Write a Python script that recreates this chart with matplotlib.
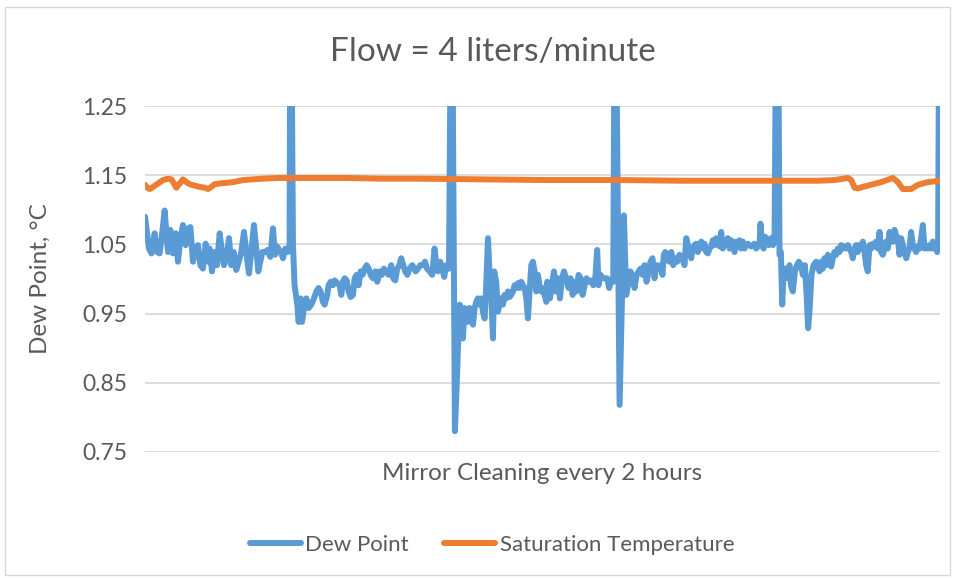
import matplotlib.pyplot as plt
from matplotlib.patches import Rectangle

# minutes since start of the run (mirror cleaned every 120 min)
dew_time = [
    0.0, 2.9, 4.7, 7.1, 8.9, 10.8, 12.8, 14.5, 15.8, 17.0, 18.7, 20.7, 22.7, 24.4, 26.2,
    28.1, 30.1, 31.8, 33.6, 35.5, 37.5, 39.2, 41.0, 42.9, 44.9, 46.6, 47.9, 49.6, 51.6,
    53.3, 55.3, 57.0, 58.5, 60.2, 62.2, 63.9, 65.7, 67.6, 69.4, 71.3, 73.3, 75.0, 77.0,
    78.7, 80.7, 82.4, 83.9, 85.4, 86.9, 88.9, 90.8, 92.8, 94.8, 96.3, 97.8,
    100.5, 102.2, 103.9, 105.9, 107.1, 107.6, 108.4, 109.6, 110.8, 112.8, 113.8, 115.3,
    116.3, 117.8, 119.5, 121.2, 123.2, 125.2, 126.9, 128.6, 130.1, 131.8, 133.1, 135.0,
    136.0, 137.5, 139.2, 140.5, 142.5, 144.2, 145.4, 146.6, 147.9, 149.4, 150.8, 152.3,
    154.1, 155.3, 156.8, 158.3, 159.7, 161.2, 162.7, 164.2, 165.7, 167.1, 168.9, 170.6,
    172.1, 173.8, 175.5, 177.0, 178.7, 180.5, 182.4, 183.9, 185.4, 186.9, 188.4, 189.8,
    191.3, 192.8, 194.3, 196.0, 198.0,
    200.5, 202.2, 203.9, 205.9, 207.4, 208.9, 210.8, 212.8, 214.5, 215.8, 217.0, 218.7,
    220.2, 221.7, 223.2, 225.2, 226.6, 227.6, 229.6, 231.1, 232.1, 233.1, 234.3, 235.5,
    236.8, 238.0, 239.2, 240.5, 241.7, 243.0, 244.2, 245.4, 246.6, 247.9, 249.1, 250.3,
    251.6, 252.8, 254.1, 255.3, 256.5, 257.8, 258.7, 260.2, 261.5, 262.7, 263.9, 265.2,
    266.4, 267.6, 268.9, 270.1, 271.3, 272.6, 273.8, 275.0, 276.3, 277.5, 278.7, 280.0,
    281.2, 282.5, 283.7, 284.9, 286.2, 287.4, 288.6, 289.9, 291.1, 292.3, 293.6, 294.8,
    296.0, 297.3, 298.0,
    300.0, 301.5, 303.0, 304.4, 305.9, 307.4, 308.9, 310.4, 312.1, 313.8, 315.3, 316.8,
    318.3, 319.7, 321.2, 322.7, 324.2, 325.7, 327.1, 328.6, 330.6, 332.1, 333.6, 335.0,
    336.0, 337.5, 339.2, 341.0, 342.4, 343.9, 345.4, 346.9, 347.9, 348.9, 351.6, 354.8,
    356.5, 358.3, 359.7, 361.5, 362.7, 364.2, 365.7, 367.1, 368.6, 370.1, 371.6, 373.1,
    374.5, 376.0, 377.5, 379.0, 380.5, 382.0, 383.4, 384.4, 385.4, 386.9, 388.4, 389.9,
    391.3, 392.8, 394.3, 396.0, 398.0,
    399.7, 401.0, 402.2, 403.4, 404.7, 405.9, 407.1, 408.4, 409.6, 410.8, 412.1, 413.3,
    414.5, 415.8, 417.0, 418.3, 419.5, 420.7, 422.0, 423.2, 424.4, 425.7, 426.9, 428.1,
    429.4, 430.6, 431.8, 433.1, 434.3, 435.5, 436.8, 438.0, 439.2, 440.5, 441.7, 443.0,
    444.2, 445.4, 446.6, 447.9, 449.1, 450.3, 451.6, 452.8, 454.1, 455.3, 456.0, 457.0,
    458.3, 459.5, 460.7, 462.2, 463.7, 465.2, 466.4, 467.6, 469.1, 470.1, 471.1, 472.1,
    473.1, 474.6, 476.1, 477.5, 478.5, 480.0, 481.5, 483.0, 484.4, 485.9, 487.4, 488.9,
    490.3, 491.3, 492.3, 493.8, 495.3, 497.3,
    499.7, 501.0, 502.2, 503.4, 504.7, 505.9, 507.1, 508.4, 509.6, 510.8, 512.1, 513.3,
    514.5, 515.8, 517.0, 518.3, 519.5, 520.7, 522.0, 523.2, 524.4, 525.7, 526.9, 528.1,
    529.4, 530.6, 531.8, 533.1, 534.3, 535.5, 536.8, 538.0, 539.2, 540.5, 541.7, 543.0,
    544.2, 545.4, 546.6, 547.9, 549.1, 550.3, 551.6, 552.8, 554.1, 555.3, 556.5, 557.8,
    559.0, 560.2, 561.5, 562.7, 564.0, 565.2, 566.4, 567.6, 568.9, 570.1, 571.3, 572.6,
    573.8, 575.0, 576.3, 577.5, 578.7, 580.0, 581.2, 582.4, 583.7, 584.9, 586.1, 586.9,
    587.6, 588.4,
]
dew_point = [
    1.090, 1.044, 1.037, 1.066, 1.039, 1.037, 1.068, 1.099, 1.068, 1.039, 1.071, 1.037, 1.066, 1.025, 1.059,
    1.078, 1.049, 1.073, 1.075, 1.025, 1.044, 1.049, 1.020, 1.015, 1.051, 1.025, 1.044, 1.011, 1.039,
    1.020, 1.066, 1.039, 1.020, 1.030, 1.059, 1.020, 1.039, 1.013, 1.025, 1.039, 1.068, 1.039, 1.008,
    1.039, 1.078, 1.044, 1.011, 1.025, 1.039, 1.039, 1.042, 1.032, 1.073, 1.035, 1.047,
    1.039, 1.030, 1.044, 1.039, 1.049, 1.400, 1.400, 1.049, 0.991, 0.963, 0.938, 0.972,
    0.938, 0.958, 0.972, 0.958, 0.963, 0.972, 0.982, 0.987, 0.982, 0.967, 0.963, 0.977,
    0.991, 0.996, 0.991, 0.998, 0.994, 0.991, 0.977, 0.996, 1.001, 0.998, 0.982, 0.974,
    0.977, 1.001, 1.006, 0.991, 1.011, 1.006, 1.015, 1.020, 1.015, 1.006, 1.001, 1.011,
    0.996, 1.011, 1.006, 1.015, 1.011, 1.006, 1.020, 1.001, 0.998, 1.015, 1.020, 1.030,
    1.020, 1.011, 1.006, 1.015, 1.020,
    1.011, 1.015, 1.020, 1.020, 1.025, 1.015, 1.011, 1.006, 1.044, 1.020, 1.011, 1.025,
    1.015, 1.003, 1.020, 1.015, 1.400, 1.400, 0.780, 0.857, 0.914, 0.963, 0.953, 0.914,
    0.958, 0.953, 0.938, 0.958, 0.948, 0.934, 0.958, 0.967, 0.972, 0.963, 0.972, 0.953,
    0.943, 0.991, 1.059, 1.006, 0.977, 0.914, 1.011, 0.996, 0.953, 0.963, 0.972, 0.963,
    0.977, 0.972, 0.982, 0.974, 0.977, 0.982, 0.991, 0.987, 0.994, 0.987, 0.996, 0.991,
    0.987, 0.972, 0.943, 0.982, 1.020, 1.025, 1.011, 0.982, 1.006, 0.991, 0.982, 0.987,
    0.977, 0.967, 0.996,
    0.972, 0.991, 1.011, 0.982, 1.001, 0.972, 1.001, 1.011, 1.001, 0.987, 1.001, 0.977,
    0.996, 0.982, 1.006, 1.001, 0.977, 0.991, 1.001, 0.996, 0.998, 0.991, 1.001, 1.042,
    0.991, 1.006, 1.001, 1.001, 1.001, 0.987, 0.998, 0.996, 1.400, 1.400, 0.818, 1.092,
    0.977, 0.996, 1.011, 1.001, 0.987, 1.006, 1.011, 1.015, 1.006, 1.020, 0.996, 1.011,
    1.025, 1.030, 1.001, 1.020, 1.015, 1.020, 1.006, 1.035, 1.039, 1.035, 1.025, 1.039,
    1.020, 1.030, 1.025, 1.035, 1.030,
    1.020, 1.059, 1.049, 1.039, 1.030, 1.044, 1.049, 1.051, 1.039, 1.049, 1.054, 1.044,
    1.051, 1.039, 1.037, 1.044, 1.047, 1.056, 1.049, 1.059, 1.051, 1.047, 1.068, 1.044,
    1.054, 1.049, 1.059, 1.044, 1.056, 1.051, 1.039, 1.054, 1.047, 1.056, 1.044, 1.054,
    1.044, 1.049, 1.051, 1.049, 1.047, 1.049, 1.051, 1.044, 1.047, 1.049, 1.080, 1.054,
    1.044, 1.061, 1.054, 1.049, 1.059, 1.049, 1.054, 1.400, 1.400, 1.035, 1.039, 0.963,
    1.011, 1.015, 1.001, 1.020, 0.991, 0.982, 1.011, 1.020, 1.025, 1.020, 1.006, 1.020,
    0.972, 0.929, 0.953, 1.006, 1.020, 1.025,
    1.011, 1.025, 1.015, 1.030, 1.020, 1.035, 1.025, 1.018, 1.030, 1.039, 1.035, 1.044,
    1.039, 1.049, 1.044, 1.047, 1.044, 1.049, 1.044, 1.039, 1.030, 1.044, 1.049, 1.039,
    1.049, 1.044, 1.054, 1.039, 1.020, 1.011, 1.049, 1.044, 1.051, 1.047, 1.054, 1.044,
    1.068, 1.039, 1.035, 1.044, 1.054, 1.044, 1.068, 1.059, 1.054, 1.071, 1.063, 1.059,
    1.035, 1.059, 1.049, 1.039, 1.030, 1.039, 1.044, 1.068, 1.049, 1.044, 1.039, 1.047,
    1.044, 1.059, 1.078, 1.044, 1.047, 1.044, 1.049, 1.044, 1.054, 1.044, 1.044, 1.039,
    1.049, 1.400,
]

sat_time = [
    0.0, 1.0, 3.4, 5.9, 9.6, 13.3, 17.0, 19.5, 22.0, 23.2, 25.7, 28.1, 30.6, 33.1, 36.8,
    40.5, 44.2, 46.6, 49.1, 51.6, 55.3, 60.2, 65.2, 72.6, 80.0, 87.4, 98.5, 125.0,
    150.0, 175.0, 200.0, 250.0, 300.0, 350.0, 400.0, 450.0, 498.5, 510.8, 520.7, 523.2,
    525.7, 528.1, 535.5, 545.4, 554.1, 557.8, 561.5, 567.6, 572.6, 580.0, 589.0,
]
sat_temp = [
    1.136, 1.133, 1.130, 1.133, 1.138, 1.143, 1.145, 1.144, 1.136, 1.132, 1.138, 1.144, 1.140, 1.137, 1.135,
    1.133, 1.132, 1.130, 1.133, 1.137, 1.138, 1.139, 1.140, 1.143, 1.144, 1.145, 1.146, 1.146,
    1.146, 1.145, 1.145, 1.144, 1.143, 1.143, 1.142, 1.142, 1.142, 1.143, 1.146, 1.143,
    1.132, 1.131, 1.135, 1.140, 1.146, 1.140, 1.130, 1.130, 1.136, 1.140, 1.142,
]

y_ticks = [0.75, 0.85, 0.95, 1.05, 1.15, 1.25]

blue = "#5B9BD5"
orange = "#ED7D31"
text_col = "#595959"

plt.rcParams["font.family"] = ["Lato", "DejaVu Sans"]

fig = plt.figure(figsize=(9.58, 5.78), dpi=100)
ax = fig.add_axes([0.1514, 0.218, 0.8298, 0.5986])

ax.plot(dew_time, dew_point, color=blue, lw=4.3, label="Dew Point",
        solid_joinstyle="round", solid_capstyle="round")
ax.plot(sat_time, sat_temp, color=orange, lw=4.3, label="Saturation Temperature",
        solid_joinstyle="round", solid_capstyle="round")

ax.set_xlim(0, 589)
ax.set_ylim(0.75, 1.25)
ax.set_yticks(y_ticks)
ax.set_yticklabels([f"{v:.2f}" for v in y_ticks])
ax.set_xticks([])
ax.tick_params(axis="y", length=0, pad=13, labelsize=16.5, labelcolor=text_col)
ax.grid(axis="y", color="#D9D9D9", lw=1.3)
ax.set_axisbelow(True)
for s in ax.spines.values():
    s.set_visible(False)

ax.set_xlabel("Mirror Cleaning every 2 hours", fontsize=17.5, color=text_col, labelpad=8)
ax.set_ylabel("Dew Point, °C", fontsize=17.5, color=text_col, labelpad=22)
fig.text(0.5146, 1 - 52 / 578, "Flow = 4 liters/minute", ha="center", va="center",
         fontsize=24, color=text_col)

fig.legend(loc="center", bbox_to_anchor=(492 / 958, 1 - 545 / 578), ncol=2, frameon=False,
           fontsize=16, handlelength=2.3, columnspacing=1.6, handletextpad=0.2,
           labelcolor=text_col)

# chart-area frame
fig.patches.append(Rectangle((5 / 958, 3 / 578), 945 / 958, 568 / 578,
                             transform=fig.transFigure, fill=False,
                             edgecolor="#D9D9D9", lw=1.0))

fig.savefig("out.png", dpi=100)
